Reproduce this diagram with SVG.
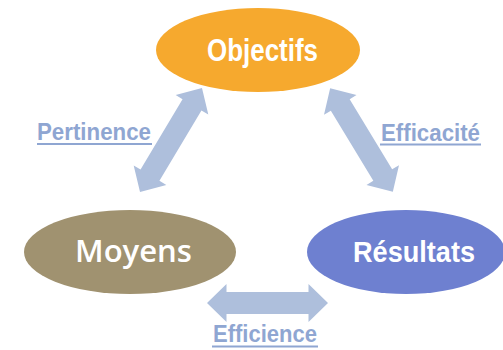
<svg xmlns="http://www.w3.org/2000/svg" width="503" height="350" viewBox="0 0 503 350">
  <style>
    .node-label { fill: #ffffff; font-weight: bold; text-anchor: start; }
    .narrow { font-family: "Liberation Sans", Arial, sans-serif; }
    .round { font-family: "Open Sans", "Liberation Sans", sans-serif; font-weight: 600; }
    .edge-label { fill: #8FA6D2; font-family: "Liberation Sans", Arial, sans-serif; font-weight: bold; font-size: 24px; }
    .uline { stroke: #8FA6D2; stroke-width: 2; }
    .arrow { fill: #AEBFDC; }
  </style>
  <defs>
    <path id="dbl" d="M -60.5 0 L -41 -19 L -41 -11 L 41 -11 L 41 -19 L 60.5 0 L 41 19 L 41 11 L -41 11 L -41 19 Z"/>
  </defs>
  <rect width="503" height="350" fill="#ffffff"/>

  <g id="connectors">
    <g id="pertinence">
      <use href="#dbl" class="arrow" transform="translate(171,140) rotate(-59.2)"/>
      <text class="edge-label" x="37" y="140" textLength="114" lengthAdjust="spacingAndGlyphs">Pertinence</text>
      <line class="uline" x1="37" y1="144" x2="152" y2="144"/>
    </g>
    <g id="efficacite">
      <use href="#dbl" class="arrow" transform="translate(361.5,140) rotate(58.8)"/>
      <text class="edge-label" x="381" y="141" textLength="99" lengthAdjust="spacingAndGlyphs">Efficacité</text>
      <line class="uline" x1="380" y1="144.5" x2="481" y2="144.5"/>
    </g>
    <g id="efficience">
      <use href="#dbl" class="arrow" transform="translate(267.5,303)"/>
      <text class="edge-label" x="213" y="342" textLength="104" lengthAdjust="spacingAndGlyphs">Efficience</text>
      <line class="uline" x1="212" y1="346.5" x2="318" y2="346.5"/>
    </g>
  </g>

  <g id="objectifs">
    <ellipse cx="258" cy="50" rx="102" ry="42" fill="#F6A92E"/>
    <text class="node-label narrow" x="207" y="61" font-size="31" textLength="111" lengthAdjust="spacingAndGlyphs">Objectifs</text>
  </g>
  <g id="moyens">
    <ellipse cx="130" cy="252" rx="106" ry="42" fill="#A09270"/>
    <text class="node-label round" x="75" y="262" font-size="30" textLength="117" lengthAdjust="spacingAndGlyphs">Moyens</text>
  </g>
  <g id="resultats">
    <ellipse cx="406" cy="252" rx="99" ry="42" fill="#6E80D0"/>
    <text class="node-label narrow" x="353" y="262" font-size="29" textLength="122" lengthAdjust="spacingAndGlyphs">Résultats</text>
  </g>
</svg>
